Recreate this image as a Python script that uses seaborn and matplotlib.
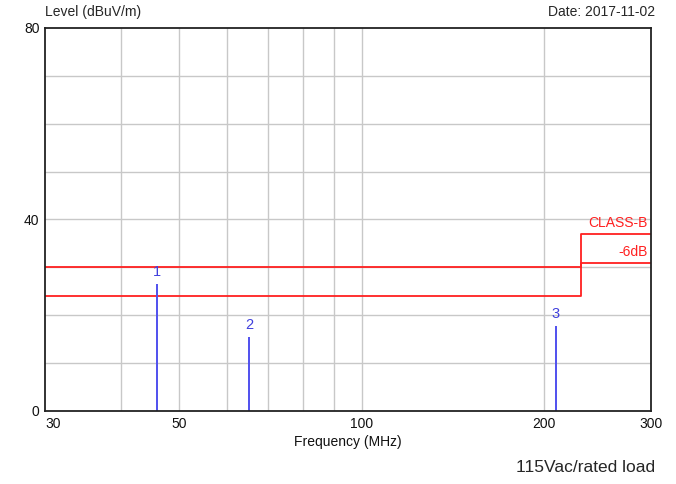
import matplotlib
matplotlib.use("Agg")
import matplotlib.pyplot as plt
import numpy as np
import pandas as pd
import seaborn as sns

# limit lines (MHz, dBuV/m)
limit_freq = [30, 230, 300]
class_b = [30, 37, 37]
class_b_6db = [24, 31, 31]

# measured peaks
marker_ids = ["1", "2", "3"]
marker_freq = [45.9, 65.1, 208.9]
marker_level = [26.6, 15.4, 17.8]

x_ticks = [30, 50, 100, 200, 300]
x_grid = [40, 50, 60, 70, 80, 90, 100, 200]
y_ticks = [0, 40, 80]
y_grid = [10, 20, 30, 40, 50, 60, 70]

sns.set_theme(style="white")
plt.rcParams['font.family'] = ['Liberation Sans Narrow', 'Liberation Sans', 'DejaVu Sans']

fig = plt.figure(figsize=(6.76, 4.84), dpi=100)
ax = fig.add_axes([45 / 676, 1 - 411 / 484, 606 / 676, 383 / 484])
ax.set_xscale("log")
ax.set_xlim(30, 300)
ax.set_ylim(0, 80)

for g in x_grid:
    ax.axvline(g, color="#c8c8c8", lw=1, zorder=0)
for g in y_grid:
    ax.axhline(g, color="#c8c8c8", lw=1, zorder=0)

df = pd.DataFrame({"freq": limit_freq, "b": class_b, "b6": class_b_6db})
sns.lineplot(data=df, x="freq", y="b", ax=ax, color="#ff2020", lw=1.3,
             drawstyle="steps-post", sort=False)
sns.lineplot(data=df, x="freq", y="b6", ax=ax, color="#ff2020", lw=1.3,
             drawstyle="steps-post", sort=False)

ax.vlines(marker_freq, 0, marker_level, color="#5050ee", lw=1.4)
for m, f, lv in zip(marker_ids, marker_freq, marker_level):
    ax.text(f, lv + 1.0, m, color="#4040dd", fontsize=10.5, ha="center", va="bottom")

ax.text(0.995, 37.8, "CLASS-B", color="#ff2020", fontsize=10, ha="right", va="bottom",
        transform=ax.get_yaxis_transform())
ax.text(0.995, 31.8, "-6dB", color="#ff2020", fontsize=10, ha="right", va="bottom",
        transform=ax.get_yaxis_transform())

ax.set_xticks(x_ticks)
ax.set_xticklabels([str(t) for t in x_ticks])
ax.xaxis.set_minor_locator(matplotlib.ticker.NullLocator())
ax.get_xticklabels()[0].set_horizontalalignment("left")
ax.set_yticks(y_ticks)
ax.tick_params(axis="both", labelsize=10, length=0, pad=4, colors="#111111")
ax.set_xlabel("Frequency (MHz)", fontsize=10, labelpad=3, color="#111111")
ax.set_ylabel("")

for s in ax.spines.values():
    s.set_color("#222222")
    s.set_linewidth(1.3)

fig.text(45 / 676, 1 - 12 / 484, "Level (dBuV/m)", fontsize=10, ha="left", va="center")
fig.text(655 / 676, 1 - 12 / 484, "Date: 2017-11-02", fontsize=10, ha="right", va="center")
fig.text(655 / 676, 1 - 467 / 484, "115Vac/rated load", fontsize=12.5, ha="right",
         va="center", family=["Liberation Sans", "DejaVu Sans"])

fig.savefig("out.png", dpi=100)
